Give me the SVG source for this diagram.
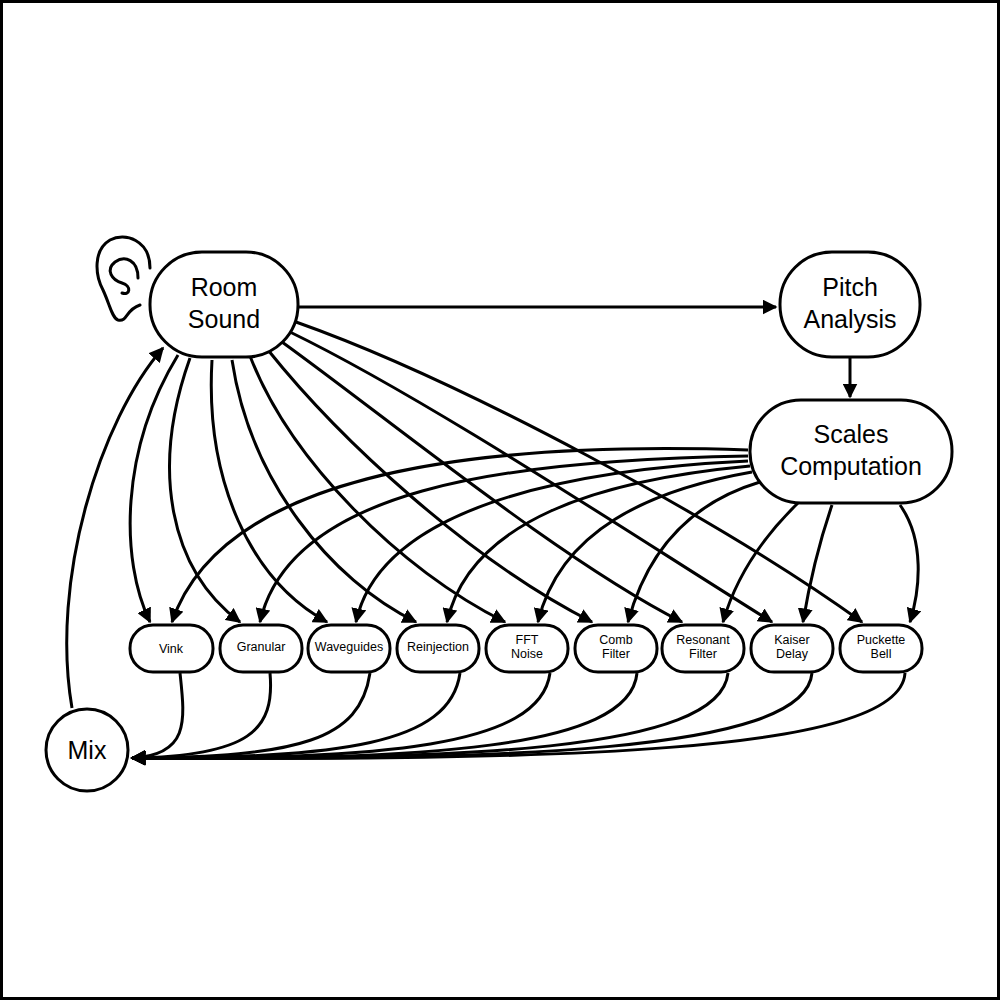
<svg xmlns="http://www.w3.org/2000/svg" width="1000" height="1000" viewBox="0 0 1000 1000">
<defs>
<marker id="a" viewBox="0 0 10 10" refX="9" refY="5" markerWidth="5" markerHeight="5" orient="auto-start-reverse" markerUnits="strokeWidth"><path d="M0,0 L10,5 L0,10 z" fill="#000"/></marker>
<style>
.n{fill:#fff;stroke:#000;stroke-width:3}
.e{fill:none;stroke:#000;stroke-width:3;marker-end:url(#a)}
.t{font-family:"Liberation Sans",Arial,sans-serif;text-anchor:middle;fill:#000}
.b{font-size:25px}.s{font-size:12.5px}
</style>
</defs>
<rect x="1.5" y="1.5" width="997" height="997" fill="#fff" stroke="#000" stroke-width="3"/>
<g id="connectors">
<path class="e" d="M298,307 L776,307"/>
<path class="e" d="M850,357 L850,397"/>
<path class="e" d="M72,708 C50,580 100,420 163,348"/>
<!-- room to small -->
<path class="e" d="M178,355 C120,450 120,560 150,622"/>
<path class="e" d="M190,358 C150,470 170,570 240,622"/>
<path class="e" d="M212,360 C205,480 250,580 327,622"/>
<path class="e" d="M232,360 C250,480 330,580 416,622"/>
<path class="e" d="M250,356 C290,460 400,570 505,622"/>
<path class="e" d="M268,350 C340,440 470,560 592,622"/>
<path class="e" d="M282,342 C390,420 560,560 682,622"/>
<path class="e" d="M290,332 C430,400 640,540 772,622"/>
<path class="e" d="M296,322 C460,380 720,520 862,622"/>
<!-- scales to small -->
<path class="e" d="M748,450 C450,440 220,480 172,622"/>
<path class="e" d="M748,456 C500,460 290,490 260,622"/>
<path class="e" d="M748,461 C560,470 380,510 356,622"/>
<path class="e" d="M750,466 C600,480 470,520 447,622"/>
<path class="e" d="M752,472 C650,490 560,530 538,622"/>
<path class="e" d="M760,482 C700,500 650,540 628,622"/>
<path class="e" d="M798,503 C760,540 735,580 723,622"/>
<path class="e" d="M832,505 C820,540 810,580 803,622"/>
<path class="e" d="M900,505 C925,540 920,590 910,622"/>
<!-- small to mix -->
<path class="e" d="M180,673 C185,720 190,755 132,758"/>
<path class="e" d="M270,673 C275,730 250,756 132,758"/>
<path class="e" d="M370,673 C360,740 300,757 132,758"/>
<path class="e" d="M460,673 C450,745 340,758 132,758"/>
<path class="e" d="M550,673 C540,748 380,759 132,758"/>
<path class="e" d="M637,673 C630,750 420,760 132,758"/>
<path class="e" d="M728,673 C720,752 460,760 132,758"/>
<path class="e" d="M812,673 C805,754 500,760 132,758"/>
<path class="e" d="M905,673 C900,756 540,760 132,758"/>
</g>
<g id="ear" fill="none" stroke="#000" stroke-width="3" stroke-linecap="round">
<path d="M150,268 C150,240 125,232 110,240 C93,250 95,275 103,290 C110,305 112,318 118,320 C128,322 125,310 140,305"/>
<path d="M138,278 C138,260 125,255 115,262 C105,270 112,280 122,283 C132,286 130,296 122,293"/>
</g>
<g id="room"><rect class="n" x="150" y="252" width="148" height="105" rx="52"/><text class="t b" x="224" y="296">Room</text><text class="t b" x="224" y="328">Sound</text></g>
<g id="pitch"><rect class="n" x="780" y="252" width="140" height="105" rx="52"/><text class="t b" x="850" y="296">Pitch</text><text class="t b" x="850" y="328">Analysis</text></g>
<g id="scales"><rect class="n" x="750" y="400" width="202" height="103" rx="51"/><text class="t b" x="851" y="443">Scales</text><text class="t b" x="851" y="475">Computation</text></g>
<g id="mix"><circle class="n" cx="87" cy="750" r="41"/><text class="t b" x="87" y="759">Mix</text></g>
<g id="vink"><rect class="n" x="130" y="625" width="83" height="47" rx="23"/><text class="t s" x="171" y="653">Vink</text></g>
<g id="granular"><rect class="n" x="220" y="625" width="82" height="47" rx="23"/><text class="t s" x="261" y="651">Granular</text></g>
<g id="waveguides"><rect class="n" x="308" y="625" width="82" height="47" rx="23"/><text class="t s" x="349" y="651">Waveguides</text></g>
<g id="reinjection"><rect class="n" x="397" y="625" width="82" height="47" rx="23"/><text class="t s" x="438" y="651">Reinjection</text></g>
<g id="fft"><rect class="n" x="486" y="625" width="82" height="47" rx="23"/><text class="t s" x="527" y="644">FFT</text><text class="t s" x="527" y="658">Noise</text></g>
<g id="comb"><rect class="n" x="575" y="625" width="82" height="47" rx="23"/><text class="t s" x="616" y="644">Comb</text><text class="t s" x="616" y="658">Filter</text></g>
<g id="resonant"><rect class="n" x="662" y="625" width="82" height="47" rx="23"/><text class="t s" x="703" y="644">Resonant</text><text class="t s" x="703" y="658">Filter</text></g>
<g id="kaiser"><rect class="n" x="751" y="625" width="82" height="47" rx="23"/><text class="t s" x="792" y="644">Kaiser</text><text class="t s" x="792" y="658">Delay</text></g>
<g id="puckette"><rect class="n" x="840" y="625" width="82" height="47" rx="23"/><text class="t s" x="881" y="644">Puckette</text><text class="t s" x="881" y="658">Bell</text></g>
</svg>
